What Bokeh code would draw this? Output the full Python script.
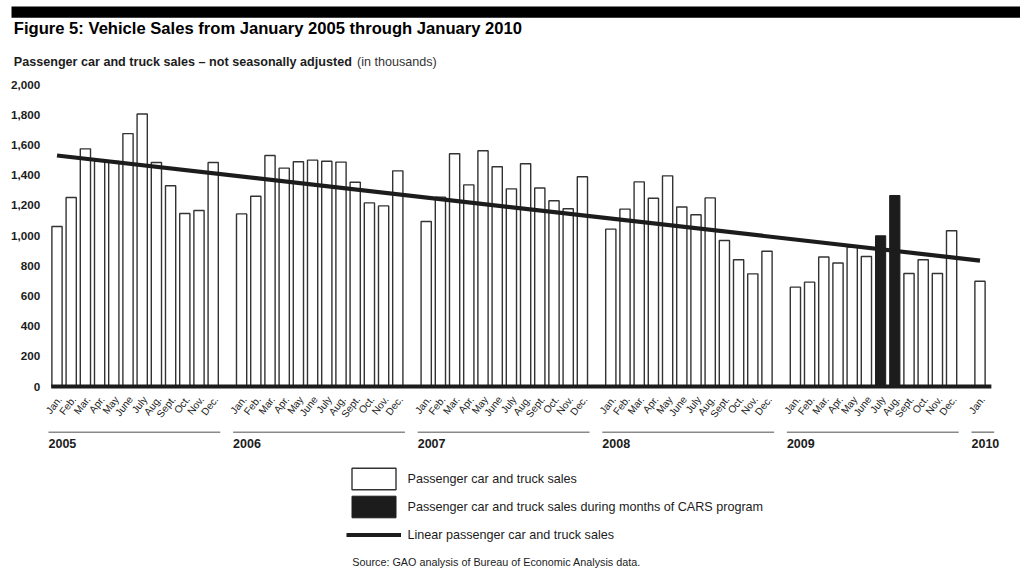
from bokeh.plotting import figure
from bokeh.models import (ColumnDataSource, Range1d, FixedTicker, NumeralTickFormatter,
                          Label, Legend, LegendItem, BoxAnnotation)
from bokeh.core.properties import value
from bokeh.embed import file_html
from bokeh.resources import INLINE

# ---------------- data ----------------
years = ["2005", "2006", "2007", "2008", "2009", "2010"]
months = ["Jan.", "Feb.", "Mar.", "Apr.", "May", "June",
          "July", "Aug.", "Sept.", "Oct.", "Nov.", "Dec."]
sales_2005 = [1060, 1252, 1574, 1492, 1490, 1675, 1805, 1483, 1329, 1146, 1166, 1483]
sales_2006 = [1143, 1260, 1530, 1446, 1488, 1499, 1492, 1486, 1353, 1216, 1196, 1428]
sales_2007 = [1093, 1254, 1541, 1335, 1561, 1455, 1309, 1475, 1315, 1230, 1177, 1389]
sales_2008 = [1042, 1175, 1355, 1247, 1395, 1189, 1137, 1249, 967, 839, 746, 896]
sales_2009 = [658, 691, 858, 818, 923, 861, 998, 1265, 748, 839, 748, 1031]
sales_2010 = [697]
sales_by_year = [sales_2005, sales_2006, sales_2007, sales_2008, sales_2009, sales_2010]
cars_months = [("2009", "July"), ("2009", "Aug.")]
trend_start = 1530   # linear trend at Jan. 2005
trend_end = 834      # linear trend at Jan. 2010
y_ticks = [0, 200, 400, 600, 800, 1000, 1200, 1400, 1600, 1800, 2000]

FONT = "Liberation Sans"
INK = "#1c1c1c"

# ---------------- layout (canvas pixels) ----------------
W, H = 1020, 578
SLOT0 = 56.5      # canvas x of first month slot
PITCH = 14.2      # px per month slot
Y0 = 386.0        # canvas y of value 0
PXU = 0.151       # px per thousand vehicles
GROUP = 13        # 12 months + 1 gap slot


def dx(cx):
    return (cx - SLOT0) / PITCH


def dy(cy):
    return (Y0 - cy) / PXU


# ---------------- build bar table ----------------
slot, val, lab, cars = [], [], [], []
for yi, (yr, vals) in enumerate(zip(years, sales_by_year)):
    for mi, v in enumerate(vals):
        slot.append(yi * GROUP + mi)
        val.append(v)
        lab.append(months[mi])
        cars.append((yr, months[mi]) in cars_months)

open_src = ColumnDataSource(dict(x=[s for s, c in zip(slot, cars) if not c],
                                 top=[v for v, c in zip(val, cars) if not c]))
cars_src = ColumnDataSource(dict(x=[s for s, c in zip(slot, cars) if c],
                                 top=[v for v, c in zip(val, cars) if c]))

p = figure(width=W, height=H,
           x_range=Range1d(dx(0), dx(W)), y_range=Range1d(dy(H), dy(0)),
           output_backend="svg", toolbar_location=None,
           min_border=0, x_axis_location=None, y_axis_location="left")
p.outline_line_color = None
p.xgrid.visible = False
p.ygrid.visible = False
p.background_fill_color = "white"
p.border_fill_color = "white"

# y axis drawn at the left end of the baseline
yax = p.yaxis[0]
yax.fixed_location = slot[0] - 0.41
yax.ticker = FixedTicker(ticks=y_ticks)
yax.formatter = NumeralTickFormatter(format="0,0")
yax.axis_line_color = None
yax.major_tick_line_color = None
yax.minor_tick_line_color = None
yax.major_label_standoff = 5
yax.major_label_text_font = FONT
yax.major_label_text_font_style = "bold"
yax.major_label_text_font_size = "11.7px"
yax.major_label_text_color = INK

# bars
r_open = p.vbar(x="x", top="top", bottom=0, width=0.72, source=open_src,
                fill_color="white", line_color="#333333", line_width=1.4)
r_cars = p.vbar(x="x", top="top", bottom=0, width=0.72, source=cars_src,
                fill_color=INK, line_color=INK, line_width=1.0)

# trend line
r_trend = p.line(x=[slot[0], slot[-1]], y=[trend_start, trend_end],
                 line_color=INK, line_width=4.2)

# baseline
p.segment(x0=[slot[0] - 0.41], y0=[0], x1=[slot[-1] + 0.8], y1=[0],
          line_color=INK, line_width=4)

# month labels
p.text(x=[s + 0.2 for s in slot], y=[dy(397)] * len(slot), text=lab,
       angle=52, angle_units="deg", text_align="right", text_baseline="middle",
       text_font=value(FONT), text_font_size="10.2px", text_color=INK)

# year underlines and labels
yl_x0, yl_x1 = [], []
for yi, vals in enumerate(sales_by_year):
    first = yi * GROUP
    last = first + len(vals) - 1
    yl_x0.append(first - 0.6)
    yl_x1.append(max(last + 0.5, first + 1.0))
p.segment(x0=yl_x0, y0=[dy(431.7)] * len(years), x1=yl_x1, y1=[dy(431.7)] * len(years),
          line_color="#8a8a8a", line_width=1.6)
p.text(x=yl_x0, y=[dy(443.3)] * len(years), text=years,
       text_align="left", text_baseline="middle",
       text_font=value(FONT), text_font_style="bold", text_font_size="12.5px",
       text_color=INK)

# top black band
p.add_layout(BoxAnnotation(left=dx(11), right=dx(W), top=dy(6), bottom=dy(17.3),
                           fill_color="black", fill_alpha=1.0, line_color=None))

# titles
p.add_layout(Label(x=dx(13.3), y=dy(28.2), text="Figure 5: Vehicle Sales from January 2005 through January 2010",
                   text_font=FONT, text_font_style="bold", text_font_size="16.6px",
                   text_color="black", text_baseline="middle"))
p.add_layout(Label(x=dx(13.3), y=dy(61.2), text="Passenger car and truck sales \u2013 not seasonally adjusted",
                   text_font=FONT, text_font_style="bold", text_font_size="12.6px",
                   text_color=INK, text_baseline="middle"))
p.add_layout(Label(x=dx(356.5), y=dy(61.2), text="(in thousands)",
                   text_font=FONT, text_font_size="12.6px",
                   text_color="#333333", text_baseline="middle"))

# legend
legend = Legend(items=[
    LegendItem(label="Passenger car and truck sales", renderers=[r_open]),
    LegendItem(label="Passenger car and truck sales during months of CARS program", renderers=[r_cars]),
    LegendItem(label="Linear passenger car and truck sales", renderers=[r_trend]),
], location=(345.5, H - 548.3), orientation="vertical",
    glyph_width=55, glyph_height=27, spacing=1, padding=0, margin=0,
    label_standoff=7, border_line_color=None, background_fill_alpha=0,
    label_text_font=FONT, label_text_font_size="12.6px", label_text_color=INK,
    label_text_baseline="middle")
p.add_layout(legend)

# source
p.add_layout(Label(x=dx(351.7), y=dy(561), text="Source: GAO analysis of Bureau of Economic Analysis data.",
                   text_font=FONT, text_font_size="10.8px", text_color=INK,
                   text_baseline="middle"))

open("out.html", "w").write(file_html(p, INLINE))
